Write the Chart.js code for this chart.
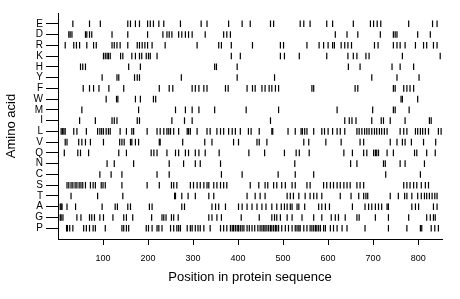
<!DOCTYPE html>
<html><head><meta charset="utf-8">
<script src="https://cdn.jsdelivr.net/npm/chart.js@4/dist/chart.umd.min.js"></script>
<style>html,body{margin:0;padding:0;background:#fff}#wrap{width:460px;height:299px}</style>
</head><body><div id="wrap"><canvas id="c" width="460" height="299"></canvas></div>
<script>
const aminoAcids = ['E','D','R','K','H','Y','F','W','M','I','L','V','Q','N','C','S','T','A','G','P'];
const xTicks = [100,200,300,400,500,600,700,800];
const seqLength = 853;

const posE = [33,70,94,155,161,172,181,199,205,212,224,235,272,318,331,379,409,427,472,479,538,546,560,597,610,656,694,701,709,717,779,832,842];
const posD = [24,27,31,61,64,70,75,120,155,199,233,242,247,253,268,275,283,290,298,327,368,375,383,616,642,666,716,745,749,753,799,827];
const posR = [16,35,41,48,64,79,85,120,125,131,138,155,176,181,187,193,199,209,238,309,357,363,385,432,494,501,553,580,590,600,610,614,629,637,644,652,703,711,745,753,760,771,794,812,819,834,842];
const posK = [101,105,109,112,116,139,144,164,172,181,186,196,201,205,220,385,405,494,503,536,597,644,656,664,684,691,765,849];
const posH = [50,55,61,157,183,348,352,398,645,671,742,760,790];
const posY = [98,131,135,170,176,181,274,398,481,697,753,802];
const posF = [56,70,79,91,113,146,225,247,255,298,305,313,324,331,372,378,420,432,438,453,460,469,475,483,490,564,568,660,666,745,749,768,775,782,790];
const posW = [107,130,133,172,183,212,217,762,765,799];
const posM = [53,179,261,283,298,313,348,418,490,620,699,745,749,780];
const posI = [48,83,120,125,131,176,181,253,281,298,472,637,647,653,662,697,718,723,738,771,825,829];
const posL = [7,10,13,16,35,42,63,88,93,97,101,107,112,116,138,152,164,168,198,220,227,235,242,246,250,257,268,287,290,294,309,331,338,353,361,368,379,387,394,405,423,429,447,475,477,511,527,540,543,548,553,568,586,592,600,610,620,627,637,664,669,675,681,686,691,697,703,708,714,719,725,731,760,768,775,794,799,805,810,816,823,845,851];
const posV = [16,20,46,53,61,72,101,137,142,147,161,164,172,179,225,227,277,326,342,390,401,442,447,464,546,557,595,629,671,679,738,753,765,771,785,812,839];
const posQ = [14,44,50,68,135,152,207,213,220,242,261,268,283,290,305,313,327,358,424,459,503,529,536,558,635,654,679,686,701,705,708,712,731,745,792,797,819,838];
const posN = [109,125,168,247,279,305,316,361,526,650,664,723,727,760,771,814];
const posC = [93,118,142,220,247,363,409,489,527,568,728,805];
const posS = [20,24,29,33,38,42,47,51,55,61,72,78,83,96,100,105,142,198,225,252,257,264,294,301,309,316,324,331,335,346,353,361,368,375,427,446,460,466,479,486,497,505,520,527,553,560,590,597,605,612,620,627,635,642,649,664,671,679,768,775,782,790,797,807,816,823];
const posT = [29,88,144,259,261,275,289,305,335,346,420,438,449,460,509,516,523,535,549,560,568,575,586,627,651,668,679,684,688,738,756,770,775,786,799,807,814,819,825,831,837,842];
const posA = [5,7,9,20,39,98,127,132,155,161,203,209,275,281,342,350,357,372,401,409,420,431,442,453,462,475,486,496,503,509,516,520,531,535,548,579,586,594,603,654,682,690,697,705,712,719,731,734,786,794,801,834,842];
const posG = [5,7,11,42,51,70,75,81,93,101,122,146,152,166,208,231,235,240,252,257,267,335,342,353,363,407,447,475,481,486,494,509,520,542,568,586,607,616,623,638,664,669,705,734,779,819,827,834,838];
const posP = [19,21,26,33,57,63,70,78,83,105,142,146,152,157,196,201,209,220,224,231,250,257,264,268,272,287,294,298,305,311,316,324,338,361,368,375,383,387,390,394,398,401,405,409,413,420,425,431,437,444,449,453,457,460,464,468,472,475,479,483,486,490,497,505,512,520,527,531,535,538,546,553,560,564,568,572,575,579,583,590,594,605,612,620,631,642,682,734,775,805,808,829,837,845];

const rows = [posE,posD,posR,posK,posH,posY,posF,posW,posM,posI,posL,posV,posQ,posN,posC,posS,posT,posA,posG,posP];
const points = [];
rows.forEach((arr, i) => arr.forEach(p => points.push({x: p, y: i})));

const FONT = "'Liberation Sans', Arial, Helvetica, sans-serif";
new Chart(document.getElementById('c'), {
  type: 'scatter',
  data: { datasets: [{ data: points }] },
  options: {
    responsive: false,
    animation: false,
    events: [],
    layout: { padding: { left: 0, right: 18, top: 13, bottom: 10 } },
    elements: { point: { pointStyle: 'line', radius: 3.3, hoverRadius: 3.3, rotation: 90, borderWidth: 1.2, borderColor: '#000', backgroundColor: '#000' } },
    plugins: { legend: { display: false }, tooltip: { enabled: false } },
    scales: {
      x: {
        type: 'linear', min: 0, max: seqLength,
        afterBuildTicks: s => { s.ticks = xTicks.map(v => ({ value: v })); },
        afterFit: s => { s.height = 50; },
        grid: { drawOnChartArea: false, drawTicks: true, tickLength: 6, color: '#000' },
        border: { display: true, color: '#000', width: 1 },
        ticks: { color: '#000', font: { family: FONT, size: 9 }, padding: 8, maxRotation: 0, autoSkip: false },
        title: { display: true, text: 'Position in protein sequence', color: '#000', font: { family: FONT, size: 13 }, padding: { top: 4, bottom: 4 } }
      },
      y: {
        type: 'linear', min: -1, max: 20, reverse: true,
        afterBuildTicks: s => { s.ticks = aminoAcids.map((a, i) => ({ value: i })); },
        afterFit: s => { s.width = 58; },
        grid: { drawOnChartArea: false, drawTicks: true, tickLength: 12, color: '#000' },
        border: { display: true, color: '#000', width: 1 },
        ticks: { color: '#000', font: { family: FONT, size: 10 }, padding: 3, autoSkip: false, callback: v => aminoAcids[v] },
        title: { display: true, text: 'Amino acid', color: '#000', font: { family: FONT, size: 13 }, padding: { top: 4, bottom: 4 } }
      }
    }
  }
});
</script>
</body></html>
